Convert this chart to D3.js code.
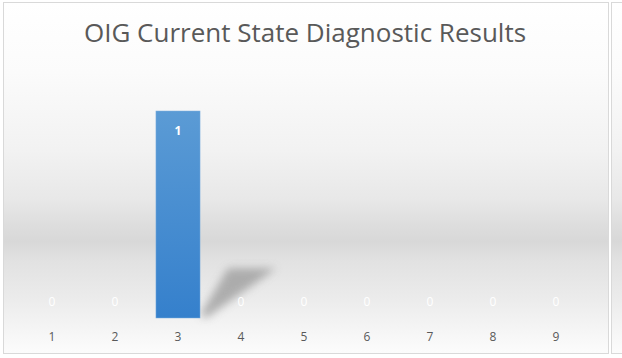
<!DOCTYPE html>
<html>
<head>
<meta charset="utf-8">
<script src="https://cdn.jsdelivr.net/npm/d3@7"></script>
<style>
  html, body { margin: 0; padding: 0; background: #ffffff; }
  svg { display: block; }
</style>
</head>
<body>
<svg id="chart" width="622" height="358"></svg>
<script>
// Diagnostic result counts per question number
const categories = ["1", "2", "3", "4", "5", "6", "7", "8", "9"];
const counts = [0, 0, 1, 0, 0, 0, 0, 0, 0];
const chartTitle = "OIG Current State Diagnostic Results";

const svg = d3.select("#chart");
const defs = svg.append("defs");

// Panel background: white at top, grey band low, fading back to white
const bg = defs.append("linearGradient").attr("id", "bgGrad")
  .attr("x1", 0).attr("y1", 0).attr("x2", 0).attr("y2", 1);
[[0, "#ffffff"], [0.2, "#fbfbfb"], [0.42, "#f2f2f2"], [0.56, "#e8e8e8"], [0.63, "#dedede"],
 [0.68, "#d8d8d8"], [0.74, "#e2e2e2"], [0.85, "#ececec"], [0.96, "#f8f8f8"], [1, "#fcfcfc"]]
  .forEach(([o, c]) => bg.append("stop").attr("offset", o).attr("stop-color", c));

const barGrad = defs.append("linearGradient").attr("id", "barGrad")
  .attr("x1", 0).attr("y1", 0).attr("x2", 0).attr("y2", 1);
barGrad.append("stop").attr("offset", 0).attr("stop-color", "#5b9bd5");
barGrad.append("stop").attr("offset", 1).attr("stop-color", "#3580cc");

defs.append("filter").attr("id", "shadowBlur")
  .attr("x", "-50%").attr("y", "-50%").attr("width", "200%").attr("height", "200%")
  .append("feGaussianBlur").attr("stdDeviation", 4);

// Main chart panel
svg.append("rect").attr("x", 3.5).attr("y", 2.5).attr("width", 605).attr("height", 351)
  .attr("fill", "url(#bgGrad)").attr("stroke", "#d9d9d9").attr("stroke-width", 1);
// Edge of the neighbouring panel
svg.append("rect").attr("x", 611.5).attr("y", 2.5).attr("width", 20).attr("height", 351)
  .attr("fill", "url(#bgGrad)").attr("stroke", "#d9d9d9").attr("stroke-width", 1);

const x = d3.scaleBand().domain(categories).range([20.5, 587.5]).paddingInner(0.3).paddingOuter(0.15);
const y = d3.scaleLinear().domain([0, 1]).range([318, 111]);

svg.append("text")
  .attr("x", 305).attr("y", 42)
  .attr("text-anchor", "middle")
  .attr("font-family", "'Open Sans', sans-serif")
  .attr("font-size", 26)
  .attr("fill", "#595959")
  .text(chartTitle);

// Perspective shadows cast back and to the right by the bars
const data = categories.map((c, i) => ({ c, v: counts[i] }));
svg.append("g").selectAll("path").data(data.filter(d => d.v > 0)).join("path")
  .attr("d", d => {
    const x0 = x(d.c) + x.bandwidth(), y0 = y(0);
    const top = y0 - (y(0) - y(d.v)) * 0.24;
    return `M${x0},${y0 - 3} L${x0 + 28},${top} L${x0 + 76},${top} L${x0 + 6},${y0} Z`;
  })
  .attr("fill", "#999999").attr("opacity", 0.75)
  .attr("filter", "url(#shadowBlur)");

svg.append("g").selectAll("rect").data(data).join("rect")
  .attr("x", d => x(d.c))
  .attr("y", d => y(d.v))
  .attr("width", x.bandwidth())
  .attr("height", d => y(0) - y(d.v))
  .attr("fill", "url(#barGrad)")
  .attr("stroke", "#7fb1e0").attr("stroke-width", 0.5);

// Value labels: inside the bar top, or just above the baseline for zeros
svg.append("g").selectAll("text").data(data).join("text")
  .attr("x", d => x(d.c) + x.bandwidth() / 2)
  .attr("y", d => d.v > 0 ? y(d.v) + 24 : y(0) - 12)
  .attr("text-anchor", "middle")
  .attr("font-family", "'Open Sans', sans-serif")
  .attr("font-size", 12)
  .attr("font-weight", d => d.v > 0 ? "bold" : "normal")
  .attr("fill", "#ffffff")
  .text(d => d.v);

// Category axis
const axis = svg.append("g").attr("transform", `translate(0,${y(0)})`)
  .call(d3.axisBottom(x).tickSize(0).tickPadding(14));
axis.select(".domain").remove();
axis.selectAll("text")
  .attr("font-family", "'Open Sans', sans-serif")
  .attr("font-size", 12)
  .attr("fill", "#595959");
</script>
</body>
</html>
